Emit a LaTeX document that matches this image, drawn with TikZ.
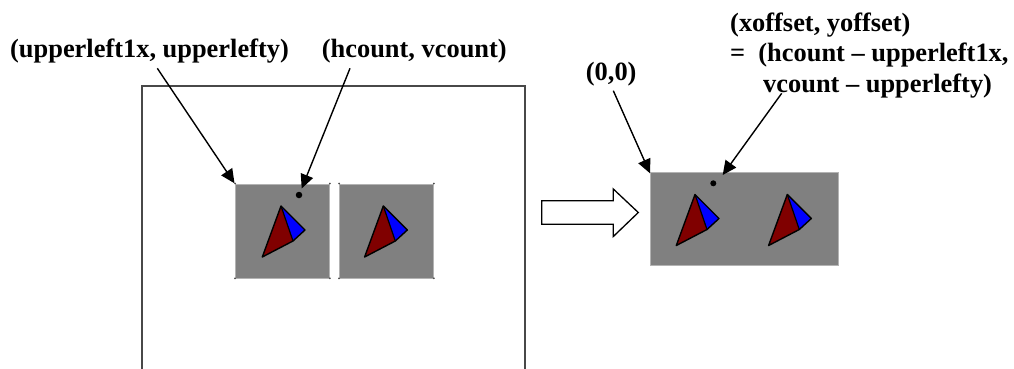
\documentclass[tikz,border=0pt]{standalone}
\usepackage{fontspec}
\setmainfont{Liberation Serif}
\usetikzlibrary{arrows.meta}
\definecolor{spritegray}{HTML}{808080}
\definecolor{conered}{HTML}{800000}
\definecolor{coneblue}{HTML}{0000FF}
\definecolor{framegray}{HTML}{484848}
\tikzset{
  lbl/.style={anchor=base west,inner sep=0pt,font=\bfseries\fontsize{26.4}{30}\selectfont},
  callout/.style={line width=1.4pt,-{Triangle[length=14pt,width=13pt]},shorten >=0pt},
  sprite/.style={fill=spritegray,draw=spritegray!60!white,line width=0.8pt},
  tick/.style={fill=black!70,inner sep=0pt,minimum size=2pt,shape=circle},
  dotmark/.style={fill=black,inner sep=0pt,minimum size=6.5pt,shape=circle},
  cone/.pic={
    \fill[coneblue] (0,0) -- (24,24) -- (12,35) -- cycle;
    \fill[conered] (0,0) -- (12,35) -- (-18.7,51) -- cycle;
    \draw[black,line width=1.4pt,line join=round] (0,0) -- (24,24) -- (12,35) -- (-18.7,51) -- cycle;
    \draw[black,line width=1.2pt] (0,0) -- (12,35);
  }
}
\begin{document}
\begin{tikzpicture}[x=1pt,y=-1pt]
\useasboundingbox (0,0) rectangle (1014,369);
% window frame
\draw[framegray,line width=1.6pt,line join=miter] (142,369) -- (142,86) -- (525,86) -- (525,369);
% left sprites
\node[sprite,minimum width=94pt,minimum height=94pt,inner sep=0pt,anchor=north west] (s1) at (235,183.5) {};
\node[sprite,minimum width=94pt,minimum height=94pt,inner sep=0pt,anchor=north west] (s2) at (339,183.5) {};
\foreach \n in {s1,s2}{
  \foreach \c in {north west,north east,south west,south east}{
    \node[tick] at (\n.\c) {};
  }
}
\pic at (281,206) {cone};
\pic at (383.3,206) {cone};
\node[dotmark] (d1) at (299,195) {};
% right sprite
\node[fill=spritegray,draw=spritegray!60!white,line width=0.6pt,minimum width=188pt,minimum height=93pt,inner sep=0pt,anchor=north west] (s3) at (650,172) {};
\pic at (695,194.5) {cone};
\pic at (787.3,194.5) {cone};
\node[dotmark,minimum size=6pt] (d2) at (713.3,183.3) {};
% block arrow
\node[inner sep=0pt,minimum size=0pt] (bk) at (541.7,212.5) {};
\draw[black,line width=1.3pt,fill=white,line join=miter]
  (bk.center) ++(0,-11.8) -- ++(71.6,0) -- ++(0,-11.7) -- ++(25,23.5) -- ++(-25,24) -- ++(0,-12.3) -- ++(-71.6,0) -- cycle;
% labels
\node[lbl] (l1) at (10,57.7) {(upperleft1x, upperlefty)};
\node[lbl] (l2) at (321.7,57.7) {(hcount, vcount)};
\node[lbl] (l3) at (585.7,80.5) {(0,0)};
\node[lbl] (l4) at (730,31.5) {(xoffset, yoffset)};
\node[lbl] (l5) at (730,62) {=\ \ (hcount – upperleft1x,};
\node[lbl] (l6) at (763,92.7) {vcount – upperlefty)};
% connector ends
\coordinate (a1s) at (157.3,68.3);
\coordinate (a1e) at (234.5,183.3);
\coordinate (a2s) at (350,68.3);
\coordinate (a2e) at (301.7,188.5);
\coordinate (a3s) at (613.3,90.7);
\coordinate (a3e) at (650,173.3);
\coordinate (a4s) at (781.7,93.3);
\coordinate (a4e) at (722.7,175);
\draw[callout] (a1s) -- (a1e);
\draw[callout] (a2s) -- (a2e);
\draw[callout] (a3s) -- (a3e);
\draw[callout] (a4s) -- (a4e);
\end{tikzpicture}
\end{document}
